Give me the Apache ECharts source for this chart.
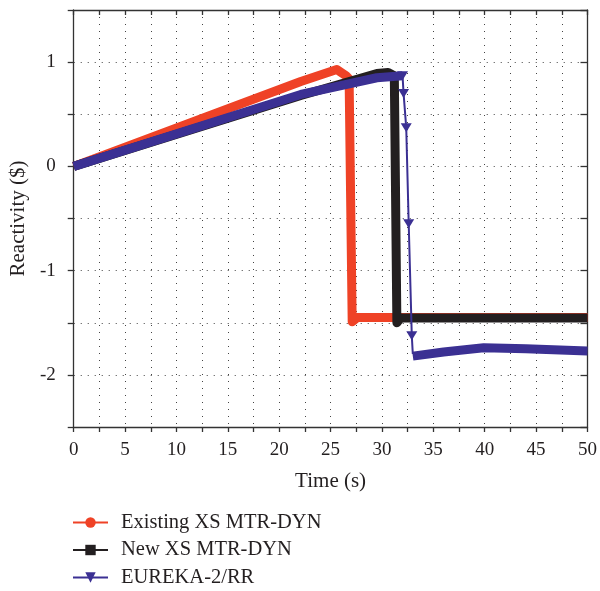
<!DOCTYPE html>
<html>
<head>
<meta charset="utf-8">
<script src="https://cdn.jsdelivr.net/npm/echarts@6/dist/echarts.min.js"></script>
<style>
  html, body { margin: 0; padding: 0; background: #fff; }
  #chart { width: 600px; height: 591px; }
</style>
</head>
<body>
<div id="chart"></div>
<script>
// Reactivity transients, time (s) vs reactivity ($)
const existingXS = [
  [0, 0], [22.1, 0.815], [25.6, 0.93], [26.5, 0.87], [26.8, 0.84],
  [27.1, -1.49], [27.6, -1.45], [50, -1.45]
];
const newXS = [
  [0, 0], [22.1, 0.68], [29.5, 0.89], [30.6, 0.9], [31.2, 0.87],
  [31.45, -1.5], [31.8, -1.455], [50, -1.455]
];
// EUREKA-2/RR: slow rise, fast drop (sparse points), then recovery
const eurekaRise = [
  [0, 0], [22.1, 0.69], [29.5, 0.85], [32.0, 0.87]
];
const eurekaDrop = [
  [32.0, 0.87], [32.1, 0.70], [32.36, 0.37], [32.6, -0.55], [32.9, -1.625], [33.0, -1.8]
];
const eurekaTail = [
  [33.0, -1.82], [36.0, -1.78], [39.9, -1.74], [44.0, -1.75], [50, -1.77]
];

const xTicksLabelled = [0, 5, 10, 15, 20, 25, 30, 35, 40, 45, 50];
const yTicksLabelled = [1, 0, -1, -2];

const RED = '#EF4226';
const BLACK = '#231F20';
const BLUE = '#3B3093';
const FONT = 'Liberation Serif';

const axisLineStyle = { color: '#333', width: 1.3 };
const gridDots = { show: true, lineStyle: { color: '#444', width: 1, type: [1, 6] } };

// points drawn as a plain thick line; the series symbol is kept for the legend icon
const plain = arr => arr.map(p => ({ value: p, symbol: 'none' }));

const chart = echarts.init(document.getElementById('chart'), null, { renderer: 'canvas' });

const eurekaDropData = eurekaDrop.map((p, i) => (
  i === eurekaDrop.length - 1 ? { value: p, symbol: 'none' } : { value: p }
));

chart.setOption({
  animation: false,
  backgroundColor: '#fff',
  grid: { left: 72, right: 12, top: 10, bottom: 164, containLabel: false },
  legend: {
    orient: 'vertical',
    left: 72,
    top: 512,
    padding: 0,
    itemWidth: 35,
    itemHeight: 13,
    itemGap: 6.5,
    lineStyle: { width: 2 },
    textStyle: { fontFamily: FONT, fontSize: 20.5, color: '#231F20', lineHeight: 20, padding: [0, 0, 0, 8] },
    data: ['Existing XS MTR-DYN', 'New XS MTR-DYN', 'EUREKA-2/RR']
  },
  xAxis: [
    {
      type: 'value', min: 0, max: 50, interval: 2.5,
      name: 'Time (s)', nameLocation: 'middle', nameGap: 44,
      nameTextStyle: { fontFamily: FONT, fontSize: 21, color: '#231F20' },
      axisLine: { show: true, onZero: false, lineStyle: axisLineStyle },
      axisTick: { show: true, inside: false, length: 5, lineStyle: axisLineStyle },
      axisLabel: {
        margin: 14, fontFamily: FONT, fontSize: 19, color: '#231F20',
        formatter: v => xTicksLabelled.includes(v) ? String(v) : ''
      },
      splitLine: gridDots
    },
    {
      type: 'value', position: 'top', min: 0, max: 50, interval: 2.5,
      axisLine: { show: true, onZero: false, lineStyle: axisLineStyle },
      axisTick: { show: true, inside: true, length: 5, lineStyle: axisLineStyle },
      axisLabel: { show: false },
      splitLine: { show: false }
    }
  ],
  yAxis: [
    {
      type: 'value', min: -2.5, max: 1.5, interval: 0.5,
      name: 'Reactivity ($)', nameLocation: 'middle', nameGap: 43, nameRotate: 90,
      nameTextStyle: { fontFamily: FONT, fontSize: 21, color: '#231F20' },
      axisLine: { show: true, onZero: false, lineStyle: axisLineStyle },
      axisTick: { show: true, inside: false, length: 6, lineStyle: axisLineStyle },
      axisLabel: {
        margin: 18, fontFamily: FONT, fontSize: 19, color: '#231F20',
        formatter: v => yTicksLabelled.includes(v) ? String(v) : ''
      },
      splitLine: gridDots
    },
    {
      type: 'value', position: 'right', min: -2.5, max: 1.5, interval: 0.5,
      axisLine: { show: true, onZero: false, lineStyle: axisLineStyle },
      axisTick: { show: true, inside: true, length: 7, lineStyle: axisLineStyle },
      axisLabel: { show: false },
      splitLine: { show: false }
    }
  ],
  series: [
    {
      name: 'Existing XS MTR-DYN', type: 'line', data: plain(existingXS),
      symbol: 'circle', symbolSize: 10,
      itemStyle: { color: RED },
      lineStyle: { color: RED, width: 9, join: 'round', cap: 'butt' },
      z: 2
    },
    {
      name: 'New XS MTR-DYN', type: 'line', data: plain(newXS),
      symbol: 'rect', symbolSize: 10,
      itemStyle: { color: BLACK },
      lineStyle: { color: BLACK, width: 9, join: 'round', cap: 'butt' },
      z: 3
    },
    {
      name: 'EUREKA-2/RR', type: 'line', data: eurekaDropData,
      symbol: 'triangle', symbolRotate: 180, symbolSize: [11, 9], showSymbol: true,
      itemStyle: { color: BLUE },
      lineStyle: { color: BLUE, width: 2 },
      z: 5
    },
    {
      name: 'EUREKA-2/RR', type: 'line', data: plain(eurekaRise),
      symbol: 'triangle', symbolRotate: 180,
      itemStyle: { color: BLUE },
      lineStyle: { color: BLUE, width: 9, join: 'round', cap: 'butt' },
      z: 4
    },
    {
      name: 'EUREKA-2/RR', type: 'line', data: plain(eurekaTail),
      symbol: 'triangle', symbolRotate: 180,
      itemStyle: { color: BLUE },
      lineStyle: { color: BLUE, width: 9, join: 'round', cap: 'butt' },
      z: 4
    }
  ]
});
</script>
</body>
</html>
